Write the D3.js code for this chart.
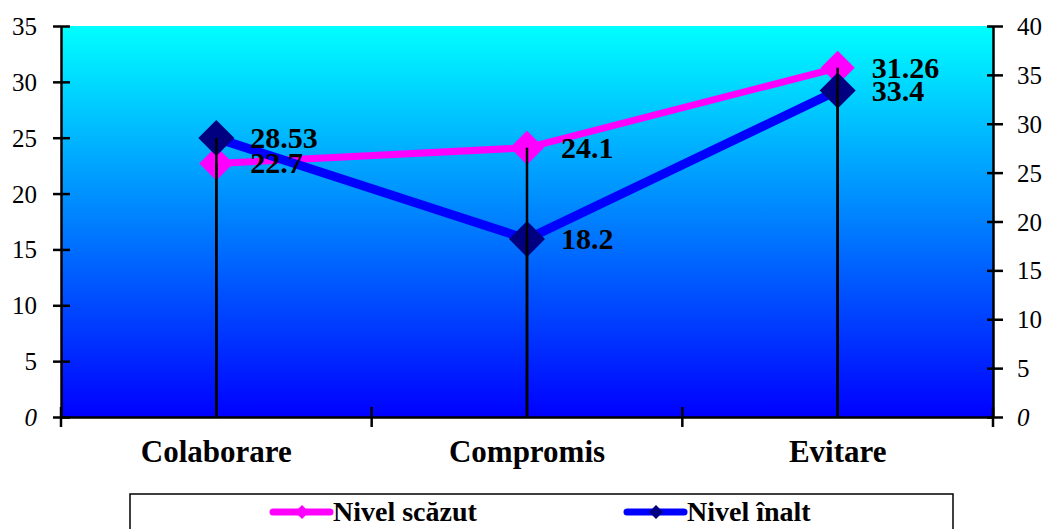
<!DOCTYPE html>
<html>
<head>
<meta charset="utf-8">
<script src="https://cdn.jsdelivr.net/npm/d3@7"></script>
<style>
  body { margin: 0; background: #fff; }
  svg { display: block; }
</style>
</head>
<body>
<svg id="chart" width="1046" height="529"></svg>
<script>
// categories and series values
var categories = [ 'Colaborare', 'Compromis', 'Evitare' ];
var nivelScazut = [ 22.7, 24.1, 31.26 ];   // left axis
var nivelInalt = [ 28.53, 18.2, 33.4 ];    // right axis
var leftTicks = [ 0, 5, 10, 15, 20, 25, 30, 35 ];
var rightTicks = [ 0, 5, 10, 15, 20, 25, 30, 35, 40 ];
var seriesNames = [ 'Nivel scăzut', 'Nivel înalt' ];

var svg = d3.select( '#chart' );
var plotLeft = 61, plotRight = 993, plotTop = 26, plotBottom = 417;
var serif = '"Liberation Serif", "Times New Roman", serif';

var x = d3.scaleBand().domain( categories ).range( [ plotLeft, plotRight ] );
var yLeft = d3.scaleLinear().domain( [ 0, 35 ] ).range( [ plotBottom, plotTop ] );
var yRight = d3.scaleLinear().domain( [ 0, 40 ] ).range( [ plotBottom, plotTop ] );
var cx = function( d ) { return x( d ) + x.bandwidth() / 2; };

// background gradient
var grad = svg.append( 'defs' ).append( 'linearGradient' )
    .attr( 'id', 'bg' ).attr( 'x1', 0 ).attr( 'y1', 0 ).attr( 'x2', 0 ).attr( 'y2', 1 );
grad.append( 'stop' ).attr( 'offset', '0%' ).attr( 'stop-color', '#00ffff' );
grad.append( 'stop' ).attr( 'offset', '100%' ).attr( 'stop-color', '#0000ff' );
svg.append( 'rect' )
    .attr( 'x', plotLeft ).attr( 'y', plotTop )
    .attr( 'width', plotRight - plotLeft ).attr( 'height', plotBottom - plotTop )
    .attr( 'fill', 'url(#bg)' );

function diamond( h ) {
    return 'M0,' + -h + 'L' + h + ',0L0,' + h + 'L' + -h + ',0Z';
}

// axes
function styleAxis( g, x1, x2 ) {
    g.select( '.domain' ).attr( 'stroke', '#000' ).attr( 'stroke-width', 2.5 );
    g.selectAll( '.tick line' ).remove();
    g.selectAll( '.tick' ).append( 'line' )
        .attr( 'x1', x1 ).attr( 'x2', x2 )
        .attr( 'stroke', '#000' ).attr( 'stroke-width', 2.5 );
    g.selectAll( '.tick text' )
        .attr( 'font-family', serif ).attr( 'font-size', 25 ).attr( 'fill', '#000' )
        .attr( 'dy', '0.34em' )
        .attr( 'font-style', function( d ) { return d === 0 ? 'italic' : null; } );
}

var gl = svg.append( 'g' ).attr( 'transform', 'translate(' + plotLeft + ',0)' )
    .call( d3.axisLeft( yLeft ).tickValues( leftTicks ).tickSize( 0 ).tickPadding( 24 ) );
styleAxis( gl, -8, 9 );

var gr = svg.append( 'g' ).attr( 'transform', 'translate(' + plotRight + ',0)' )
    .call( d3.axisRight( yRight ).tickValues( rightTicks ).tickSize( 0 ).tickPadding( 24 ) );
styleAxis( gr, -6, 10 );

var gx = svg.append( 'g' ).attr( 'transform', 'translate(0,' + plotBottom + ')' )
    .call( d3.axisBottom( x ).tickSize( 0 ).tickPadding( 23 ) );
gx.select( '.domain' ).attr( 'stroke', '#000' ).attr( 'stroke-width', 2.5 );
gx.selectAll( '.tick text' )
    .attr( 'font-family', serif ).attr( 'font-size', 31 ).attr( 'font-weight', 'bold' )
    .attr( 'fill', '#000' ).attr( 'dy', '0.71em' );
// category boundary ticks
gx.selectAll( '.bound' ).data( d3.range( categories.length + 1 ) ).enter().append( 'line' )
    .attr( 'x1', function( i ) { return x.range()[ 0 ] + i * x.step(); } )
    .attr( 'x2', function( i ) { return x.range()[ 0 ] + i * x.step(); } )
    .attr( 'y1', -10 ).attr( 'y2', 10 )
    .attr( 'stroke', '#000' ).attr( 'stroke-width', 2.5 );

// series
var series = [
    { name: seriesNames[ 0 ], values: nivelScazut, y: yLeft, line: '#ff00ff', width: 7, marker: '#ff00ff', h: 17 },
    { name: seriesNames[ 1 ], values: nivelInalt, y: yRight, line: '#0000ff', width: 9, marker: '#000080', h: 18 }
];

series.forEach( function( s ) {
    var line = d3.line()
        .x( function( d, i ) { return cx( categories[ i ] ); } )
        .y( function( d ) { return s.y( d ); } );
    svg.append( 'path' ).datum( s.values )
        .attr( 'd', line ).attr( 'fill', 'none' )
        .attr( 'stroke', s.line ).attr( 'stroke-width', s.width );
    svg.selectAll( null ).data( s.values ).enter().append( 'path' )
        .attr( 'd', diamond( s.h ) )
        .attr( 'transform', function( d, i ) { return 'translate(' + cx( categories[ i ] ) + ',' + s.y( d ) + ')'; } )
        .attr( 'fill', s.marker );
} );

// drop lines
series.forEach( function( s ) {
    svg.selectAll( null ).data( s.values ).enter().append( 'line' )
        .attr( 'x1', function( d, i ) { return cx( categories[ i ] ); } )
        .attr( 'x2', function( d, i ) { return cx( categories[ i ] ); } )
        .attr( 'y1', function( d ) { return s.y( d ); } )
        .attr( 'y2', plotBottom )
        .attr( 'stroke', '#000' ).attr( 'stroke-width', 2.5 );
} );

// data labels
series.forEach( function( s ) {
    svg.selectAll( null ).data( s.values ).enter().append( 'text' )
        .attr( 'x', function( d, i ) { return cx( categories[ i ] ) + 34; } )
        .attr( 'y', function( d ) { return s.y( d ) + 10; } )
        .attr( 'font-family', serif ).attr( 'font-size', 30 ).attr( 'font-weight', 'bold' )
        .attr( 'fill', '#000' )
        .text( function( d ) { return d; } );
} );

// legend
var legend = svg.append( 'g' );
legend.append( 'rect' )
    .attr( 'x', 130 ).attr( 'y', 494 ).attr( 'width', 823 ).attr( 'height', 60 )
    .attr( 'fill', '#fff' ).attr( 'stroke', '#000' ).attr( 'stroke-width', 1.5 );
var legendX = [ 273, 627 ];
series.forEach( function( s, i ) {
    var g = legend.append( 'g' ).attr( 'transform', 'translate(' + legendX[ i ] + ',512)' );
    g.append( 'line' ).attr( 'x1', 0 ).attr( 'x2', 57 )
        .attr( 'stroke', s.line ).attr( 'stroke-width', 7 ).attr( 'stroke-linecap', 'round' );
    g.append( 'path' ).attr( 'd', diamond( 7 ) ).attr( 'transform', 'translate(29,0)' ).attr( 'fill', s.marker );
    g.append( 'text' ).attr( 'x', 60 ).attr( 'y', 9 )
        .attr( 'font-family', serif ).attr( 'font-size', 28 ).attr( 'font-weight', 'bold' )
        .attr( 'fill', '#000' ).text( s.name );
} );
</script>
</body>
</html>
